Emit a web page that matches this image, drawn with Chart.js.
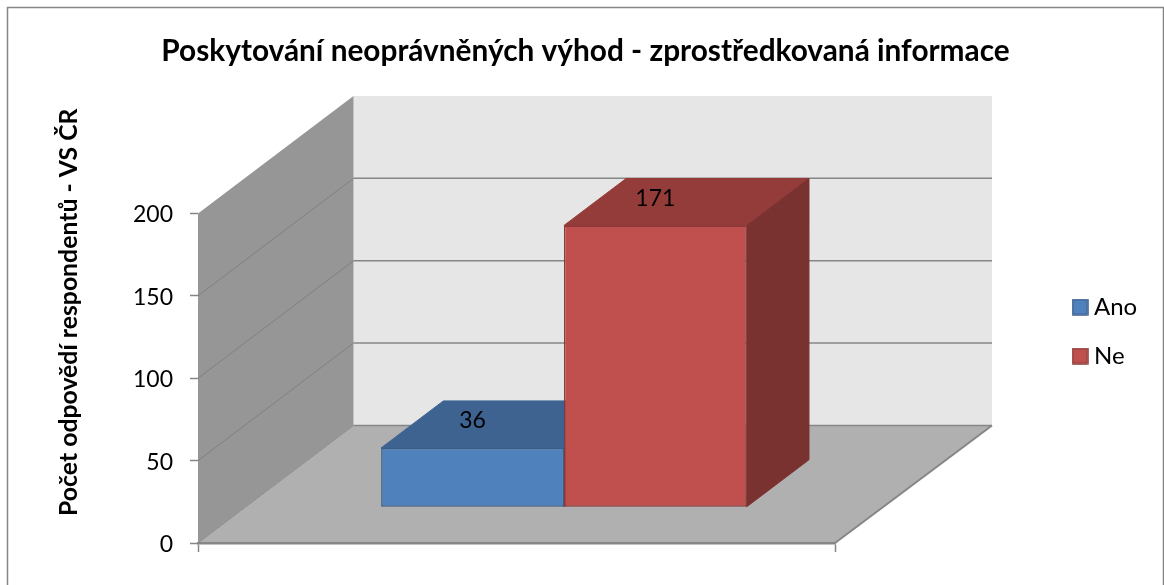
<!DOCTYPE html>
<html><head><meta charset="utf-8">
<style>html,body{margin:0;padding:0;background:#fff;overflow:hidden}canvas{display:block}</style>
<script src="https://cdn.jsdelivr.net/npm/chart.js@4"></script>
</head><body><canvas id="c" width="1164" height="585"></canvas>
<script>
const categories = [''];
const anoValues = [36];
const neValues = [171];
const seriesNames = ['Ano', 'Ne'];
const chartTitle = 'Poskytování neoprávněných výhod - zprostředkovaná informace';
const yTitle = 'Počet odpovědí respondentů - VS ČR';
const yTicks = [0, 50, 100, 150, 200];

const FF = 'Lato, Carlito, sans-serif';
const DX = 155.5, DY = 117.5;           // depth of the 3D floor
const GAP = 0.3, DEPTH = 0.4;           // bar position in that depth
const BAR_NUDGE = 0.8;
const LINE = '#868686';
const frontCol = ['#4F81BD', '#C0504D'], edgeCol = ['#385D8A', '#8C3836'];
const topCol = ['#3E6390', '#943C3A'], sideCol = ['#345479', '#7A3230'];

function swatch(fill, stroke) {
  const c = document.createElement('canvas');
  c.width = c.height = 17;
  const x = c.getContext('2d');
  x.fillStyle = fill; x.fillRect(1, 1, 15, 15);
  x.strokeStyle = stroke; x.lineWidth = 1.5; x.strokeRect(1, 1, 15, 15);
  return c;
}
const swatches = frontCol.map((f, i) => swatch(f, edgeCol[i]));

function poly(ctx, pts, fill, stroke, lw) {
  ctx.beginPath();
  pts.forEach((p, i) => i ? ctx.lineTo(p[0], p[1]) : ctx.moveTo(p[0], p[1]));
  ctx.closePath();
  if (fill) { ctx.fillStyle = fill; ctx.fill(); }
  if (stroke) { ctx.strokeStyle = stroke; ctx.lineWidth = lw || 1; ctx.stroke(); }
}
function seg(ctx, x1, y1, x2, y2, col, lw) {
  ctx.beginPath(); ctx.moveTo(x1, y1); ctx.lineTo(x2, y2);
  ctx.strokeStyle = col; ctx.lineWidth = lw; ctx.stroke();
}

const scene = {
  id: 'scene',
  beforeLayout(chart) {
    const lg = chart.legend;
    if (!lg._wrapped) {
      const fit = lg.fit;
      lg.fit = function () { fit.call(this); this.width = 329; };
      lg._wrapped = true;
    }
  },
  afterLayout(chart) {
    chart.legend.left = 1053;
    chart.legend.top = 270;
    const y = chart.scales.y;
    if (!y._wrapped) {
      const orig = y.drawTitle;
      y.drawTitle = function () {
        const c = this.ctx; c.save(); c.translate(0, -66);
        orig.apply(this, arguments); c.restore();
      };
      y._wrapped = true;
    }
  },
  beforeDraw(chart) {
    const { ctx, chartArea: a, scales: { y } } = chart;
    const L = a.left, R = a.right, T = y.getPixelForValue(200), B = y.getPixelForValue(0);
    const E = R + DX + 1.5;
    ctx.save();
    // frame
    ctx.strokeStyle = LINE; ctx.lineWidth = 1.5;
    ctx.strokeRect(7.5, 7.5, 1156, 640);
    // back wall
    poly(ctx, [[L + DX, T - DY], [E, T - DY], [E, B - DY], [L + DX, B - DY]], '#E6E6E6');
    // side wall
    poly(ctx, [[L, T], [L + DX, T - DY], [L + DX, B - DY], [L, B]], '#969696');
    // floor
    poly(ctx, [[L, B], [R, B], [E, B - DY], [L + DX, B - DY]], '#B0B0B0');
    // gridlines
    y.ticks.forEach(t => {
      const p = y.getPixelForValue(t.value);
      if (t.value === 200) return;
      seg(ctx, L + DX, p - DY, E, p - DY, LINE, 1.5);
      if (t.value > 0) seg(ctx, L, p, L + DX, p - DY, '#808080', 1);
    });
    seg(ctx, L, B, L + DX, B - DY, '#8C8C8C', 1);
    seg(ctx, R, B, E, B - DY, LINE, 2);
    ctx.restore();
  },
  beforeDatasetDraw() { return false; },
  afterDatasetsDraw(chart) {
    const { ctx } = chart;
    const ox = DX * GAP + BAR_NUDGE, oy = DY * GAP + 0.5, dx = DX * DEPTH, dy = DY * DEPTH;
    chart.data.datasets.forEach((ds, i) => {
      const meta = chart.getDatasetMeta(i), el = meta.data[0];
      const l = el.x - el.width / 2 + ox, r = el.x + el.width / 2 + ox;
      const t = el.y - oy, b = el.base - oy;
      ctx.save();
      poly(ctx, [[l, t], [l + dx, t - dy], [r + dx, t - dy], [r, t]], topCol[i], topCol[i], 1);
      poly(ctx, [[r, t], [r + dx, t - dy], [r + dx, b - dy], [r, b]], sideCol[i], sideCol[i], 1);
      ctx.translate(ox, -oy);
      meta.controller.draw();
      ctx.restore();
    });
    chart.data.datasets.forEach((ds, i) => {
      const el = chart.getDatasetMeta(i).data[0];
      ctx.save();
      ctx.fillStyle = '#000';
      ctx.font = '23px ' + FF;
      ctx.textAlign = 'center'; ctx.textBaseline = 'middle';
      ctx.fillText(String(ds.data[0]), el.x + ox, el.y - oy - 27);
      ctx.restore();
    });
  }
};

new Chart(document.getElementById('c'), {
  type: 'bar',
  data: {
    labels: categories,
    datasets: [
      { label: seriesNames[0], data: anoValues, backgroundColor: frontCol[0], borderColor: edgeCol[0], borderWidth: 1.5, borderSkipped: false },
      { label: seriesNames[1], data: neValues, backgroundColor: frontCol[1], borderColor: edgeCol[1], borderWidth: 1.5, borderSkipped: false }
    ]
  },
  plugins: [scene],
  options: {
    responsive: false,
    animation: false,
    events: [],
    devicePixelRatio: 1,
    layout: { padding: { left: 7, right: 0, top: 0, bottom: 33 } },
    datasets: { bar: { categoryPercentage: 0.574, barPercentage: 1 } },
    plugins: {
      tooltip: { enabled: false },
      title: {
        display: true, text: chartTitle, color: '#000',
        font: { family: FF, size: 29.8, weight: 'bold' },
        padding: { top: 34, bottom: 143.7 }
      },
      legend: {
        position: 'right', align: 'start',
        labels: {
          color: '#000', usePointStyle: true, pointStyleWidth: 4, boxHeight: 15, padding: 25,
          font: { family: FF, size: 24 },
          generateLabels(chart) {
            return Chart.defaults.plugins.legend.labels.generateLabels(chart)
              .map((it, i) => Object.assign(it, { pointStyle: swatches[i] }));
          }
        }
      }
    },
    scales: {
      x: {
        ticks: { display: false },
        afterFit(s) { s.height = 9; },
        border: { display: true, color: LINE, width: 2.5 },
        grid: { offset: true, drawOnChartArea: false, tickLength: 9, tickColor: LINE, tickWidth: 1.5 }
      },
      y: {
        min: 0, max: 200,
        afterBuildTicks(s) { s.ticks = yTicks.map(v => ({ value: v })); },
        afterFit(s) { s.width = 191; },
        border: { display: false },
        grid: { drawOnChartArea: false, tickLength: 8, tickColor: LINE, tickWidth: 1.5 },
        ticks: { color: '#000', padding: 17, labelOffset: 1.5, font: { family: FF, size: 23 } },
        title: {
          display: true, text: yTitle, color: '#000',
          font: { family: FF, size: 24.8, weight: 'bold' },
          padding: { top: 47, bottom: 0 }
        }
      }
    }
  }
});
</script></body></html>
